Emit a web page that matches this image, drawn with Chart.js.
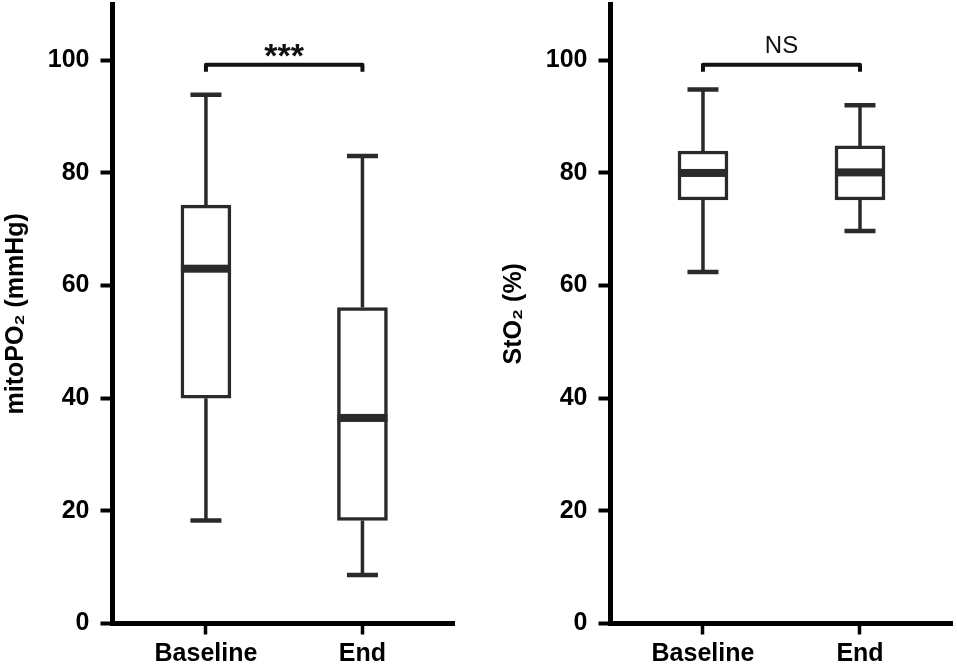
<!DOCTYPE html>
<html>
<head>
<meta charset="utf-8">
<script src="https://cdn.jsdelivr.net/npm/chart.js@4.4.1/dist/chart.umd.min.js"></script>
<style>
html, body { margin: 0; padding: 0; background: #fff; }
#wrap { position: relative; width: 957px; height: 669px; }
.panel { position: absolute; top: 0; height: 669px; }
#left { left: 0; width: 478px; }
#right { left: 478px; width: 479px; }
</style>
</head>
<body>
<div id="wrap">
  <div class="panel" id="left"><canvas id="mitoChart"></canvas></div>
  <div class="panel" id="right"><canvas id="stoChart"></canvas></div>
</div>
<script>
const groups = ['Baseline', 'End'];
const yTicks = [0, 20, 40, 60, 80, 100];

// mitoPO2 (mmHg)
const mitoMin = [18.3, 8.6];
const mitoQ1 = [40.0, 18.3];
const mitoMedian = [63.0, 36.5];
const mitoQ3 = [74.3, 56.1];
const mitoMax = [93.9, 83.0];

// StO2 (%)
const stoMin = [62.4, 69.7];
const stoQ1 = [75.2, 75.2];
const stoMedian = [80.0, 80.1];
const stoQ3 = [83.9, 84.8];
const stoMax = [94.8, 92.0];

const bracketLevel = 99.2;

Chart.defaults.font.family = '"Liberation Sans", Arial, sans-serif';
Chart.defaults.color = '#000';

const boxColor = '#2a2a2a';

// whiskers, caps, medians and the significance bracket
function boxExtras(stats, sigText, sigFont, sigOffset) {
    return {
        id: 'boxExtras',
        beforeDatasetsDraw(chart) {
            const ctx = chart.ctx;
            const x = chart.scales.x, y = chart.scales.y;
            ctx.save();
            ctx.strokeStyle = boxColor;
            stats.min.forEach((v, i) => {
                const px = x.getPixelForValue(i);
                ctx.lineWidth = 3.5;
                ctx.beginPath();
                ctx.moveTo(px, y.getPixelForValue(stats.min[i]));
                ctx.lineTo(px, y.getPixelForValue(stats.q1[i]));
                ctx.moveTo(px, y.getPixelForValue(stats.q3[i]));
                ctx.lineTo(px, y.getPixelForValue(stats.max[i]));
                ctx.stroke();
                ctx.lineWidth = 4.5;
                ctx.beginPath();
                ctx.moveTo(px - 15.5, y.getPixelForValue(stats.min[i]));
                ctx.lineTo(px + 15.5, y.getPixelForValue(stats.min[i]));
                ctx.moveTo(px - 15.5, y.getPixelForValue(stats.max[i]));
                ctx.lineTo(px + 15.5, y.getPixelForValue(stats.max[i]));
                ctx.stroke();
            });
            ctx.restore();
        },
        afterDatasetsDraw(chart) {
            const ctx = chart.ctx;
            const x = chart.scales.x, y = chart.scales.y;
            ctx.save();
            ctx.fillStyle = boxColor;
            stats.median.forEach((m, i) => {
                const px = x.getPixelForValue(i);
                ctx.fillRect(px - 25, y.getPixelForValue(m) - 4, 50, 8);
            });
            // bracket
            const x0 = x.getPixelForValue(0), x1 = x.getPixelForValue(1);
            const by = y.getPixelForValue(bracketLevel);
            ctx.strokeStyle = '#111';
            ctx.lineWidth = 4;
            ctx.lineJoin = 'round';
            ctx.beginPath();
            ctx.moveTo(x0, by + 7);
            ctx.lineTo(x0, by);
            ctx.lineTo(x1, by);
            ctx.lineTo(x1, by + 7);
            ctx.stroke();
            ctx.fillStyle = '#111';
            ctx.font = sigFont;
            ctx.textAlign = 'center';
            ctx.textBaseline = 'alphabetic';
            ctx.fillText(sigText, (x0 + x1) / 2, by + sigOffset);
            ctx.restore();
        }
    };
}

function makeChart(id, stats, title, yWidth, titlePad, padRight, xMin, xMax, sigText, sigFont, sigOffset) {
    const tickFont = { size: 25, weight: 'bold' };
    return new Chart(document.getElementById(id), {
        type: 'bar',
        data: {
            datasets: [{
                data: groups.map((g, i) => ({ x: i, y: [stats.q1[i], stats.q3[i]] })),
                backgroundColor: '#fff',
                borderColor: boxColor,
                borderWidth: 3.5,
                borderSkipped: false,
                barThickness: 50
            }]
        },
        options: {
            responsive: true,
            maintainAspectRatio: false,
            animation: false,
            layout: { padding: { top: 4, right: padRight, left: 0, bottom: 0 } },
            plugins: { legend: { display: false }, tooltip: { enabled: false } },
            scales: {
                x: {
                    type: 'linear',
                    min: xMin,
                    max: xMax,
                    offset: false,
                    afterBuildTicks: s => { s.ticks = groups.map((g, i) => ({ value: i })); },
                    afterFit: s => {
                        s.height = 45.5;
                        s.paddingLeft = 0;
                        s.paddingRight = 0;
                    },
                    ticks: {
                        callback: (v, i) => groups[i],
                        autoSkip: false,
                        maxRotation: 0,
                        padding: 5,
                        font: tickFont
                    },
                    grid: { offset: false, drawOnChartArea: false, tickLength: 11, tickWidth: 3.5, tickColor: '#000' },
                    border: { display: true, width: 5, color: '#000' }
                },
                y: {
                    min: 0,
                    max: 110,
                    afterBuildTicks: s => { s.ticks = yTicks.map(v => ({ value: v })); },
                    afterFit: s => {
                        s.width = yWidth;
                        s.paddingTop = 0;
                        s.paddingBottom = 0;
                    },
                    ticks: { padding: 11, font: tickFont },
                    grid: { drawOnChartArea: false, tickLength: 12, tickWidth: 4, tickColor: '#000' },
                    border: { display: true, width: 5, color: '#000' },
                    title: {
                        display: true,
                        text: title,
                        font: { size: 25, weight: 'bold' },
                        padding: { top: titlePad, bottom: 0 }
                    }
                }
            }
        },
        plugins: [boxExtras(stats, sigText, sigFont, sigOffset)]
    });
}

makeChart('mitoChart',
    { min: mitoMin, q1: mitoQ1, median: mitoMedian, q3: mitoQ3, max: mitoMax },
    'mitoPO₂ (mmHg)', 112.5, 1, 24, -0.597, 1.585, '***', 'bold 34px "Liberation Sans", Arial', 2);

makeChart('stoChart',
    { min: stoMin, q1: stoQ1, median: stoMedian, q3: stoQ3, max: stoMax },
    'StO₂ (%)', 132.5, 21, 5, -0.589, 1.586, 'NS', '24px "Liberation Sans", Arial', -12);
</script>
</body>
</html>
